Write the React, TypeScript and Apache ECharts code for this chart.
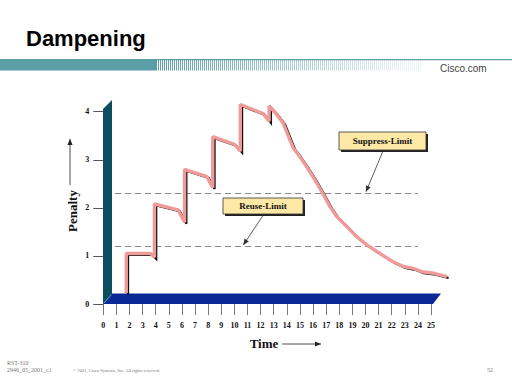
import React, { useEffect, useRef } from "react";
import * as echarts from "echarts";

const timeTicks = Array.from({ length: 26 }, (_, i) => i);
const penaltyTicks = [0, 1, 2, 3, 4];
const penaltyCurve: [number, number][] = [
  [1.75, 0.23], [1.75, 1.05], [3.6, 1.05], [3.9, 0.97],
  [3.9, 2.08], [5.7, 1.96], [6.2, 1.7],
  [6.2, 2.8], [7.9, 2.65], [8.35, 2.42],
  [8.35, 3.48], [10.0, 3.32], [10.45, 3.18],
  [10.45, 4.15], [12.2, 3.96], [12.65, 3.8],
  [12.65, 4.12], [13.2, 3.95], [13.73, 3.76], [14.24, 3.41], [14.5, 3.24],
  [14.9, 3.1], [15.5, 2.86], [16.15, 2.58], [16.66, 2.34], [17.3, 2.02],
  [17.8, 1.82], [18.57, 1.61], [19.33, 1.4], [20.1, 1.23], [21.1, 1.05],
  [22.1, 0.88], [22.9, 0.78], [23.65, 0.74], [24.3, 0.67], [25.2, 0.64], [26.2, 0.57],
];
const suppressLimit = 2.31;
const reuseLimit = 1.21;
const limitStart = 0.9;
const limitEnd = 24;

const X_MIN = 0, X_MAX = 26.5, Y_MIN = 0, Y_MAX = 4.3;
const serif = "Liberation Serif";

function arrowHead(x1: number, y1: number, x2: number, y2: number, len = 6, w = 2.6) {
  const dx = x2 - x1, dy = y2 - y1;
  const l = Math.hypot(dx, dy);
  const ux = dx / l, uy = dy / l;
  const bx = x2 - ux * len, by = y2 - uy * len;
  return [[x2, y2], [bx - uy * w, by + ux * w], [bx + uy * w, by - ux * w]];
}

function arrow(x1: number, y1: number, x2: number, y2: number, color = "#333") {
  return [
    { type: "line", z: 50, shape: { x1, y1, x2, y2 }, style: { stroke: color, lineWidth: 0.8 } },
    { type: "polygon", z: 50, shape: { points: arrowHead(x1, y1, x2, y2) }, style: { fill: color } },
  ];
}

function labelBox(x: number, y: number, w: number, h: number, text: string) {
  return [
    { type: "rect", z: 60, shape: { x: x + 2, y: y + 2, width: w, height: h }, style: { fill: "#222" } },
    { type: "rect", z: 61, shape: { x, y, width: w, height: h }, style: { fill: "#fde8a6", stroke: "#333", lineWidth: 0.8 } },
    {
      type: "text", z: 62, x: x + w / 2, y: y + h / 2,
      style: { text, font: `bold 9px "${serif}"`, fill: "#111", align: "center", verticalAlign: "middle" },
    },
  ];
}

export default function App() {
  const ref = useRef<HTMLDivElement>(null);
  useEffect(() => {
    document.body.style.margin = "0";
    const chart = echarts.init(ref.current!, null, { renderer: "svg" });

    const stripes: any[] = [];
    for (let x = 156; x < 422; x += 2) {
      const f = (x - 156) / (422 - 156);
      stripes.push({
        type: "rect", z: 1, shape: { x, y: 60, width: 1, height: 10.5 },
        style: { fill: "#5a9ea6", opacity: Math.max(0.12, 1 - f * 0.95) },
      });
    }

    const gridBase = { left: 103.3, right: 512 - (103.3 + X_MAX * 13.11), top: 304 - Y_MAX * 48.07, bottom: 80 };

    chart.setOption({
      animation: false,
      grid: [
        { ...gridBase },
        { ...gridBase, left: gridBase.left + 1.8, right: gridBase.right - 1.8, top: gridBase.top + 1.4, bottom: gridBase.bottom - 1.4 },
      ],
      xAxis: [
        {
          type: "value", gridIndex: 0, min: X_MIN, max: X_MAX, interval: 1,
          axisLine: { show: false }, splitLine: { show: false },
          axisTick: { show: true, length: 11, lineStyle: { color: "#777", width: 1 }, customValues: timeTicks },
          axisLabel: {
            customValues: timeTicks, margin: 17,
            formatter: (v: number) => (Number.isInteger(v) && v <= 25 ? String(v) : ""),
            fontFamily: serif, fontWeight: "bold", fontSize: 8, color: "#111",
          },
        },
        { type: "value", gridIndex: 1, min: X_MIN, max: X_MAX, show: false },
      ],
      yAxis: [
        {
          type: "value", gridIndex: 0, min: Y_MIN, max: Y_MAX, interval: 1,
          axisLine: { show: false }, splitLine: { show: false },
          axisTick: { show: true, length: 10, lineStyle: { color: "#555", width: 1 }, customValues: penaltyTicks },
          axisLabel: {
            customValues: penaltyTicks, margin: 14,
            formatter: (v: number) => (Number.isInteger(v) && v <= 4 ? String(v) : ""),
            fontFamily: serif, fontWeight: "bold", fontSize: 8, color: "#111",
          },
        },
        { type: "value", gridIndex: 1, min: Y_MIN, max: Y_MAX, show: false },
      ],
      series: [
        {
          type: "line", xAxisIndex: 1, yAxisIndex: 1, data: penaltyCurve, symbol: "none", z: 5,
          lineStyle: { color: "#111", width: 2.2, join: "miter" }, silent: true,
        },
        {
          type: "line", xAxisIndex: 0, yAxisIndex: 0, data: penaltyCurve, symbol: "none", z: 6,
          lineStyle: { color: "#f19a9a", width: 3.4 }, silent: true,
          markLine: {
            silent: true, symbol: "none", label: { show: false },
            lineStyle: { color: "#888", type: [6, 4], width: 1 },
            data: [
              [{ coord: [limitStart, suppressLimit] }, { coord: [limitEnd, suppressLimit] }],
              [{ coord: [limitStart, reuseLimit] }, { coord: [limitEnd, reuseLimit] }],
            ],
          },
        },
      ],
      graphic: [
        // header
        { type: "rect", z: 1, shape: { x: 0, y: 59, width: 512, height: 1.3 }, style: { fill: "#5a9ea6" } },
        { type: "rect", z: 1, shape: { x: 0, y: 60, width: 156, height: 10.5 }, style: { fill: "#5a9ea6" } },
        ...stripes,
        {
          type: "text", z: 2, x: 26, y: 38,
          style: { text: "Dampening", font: 'bold 22px "Liberation Sans"', fill: "#000", verticalAlign: "middle" },
        },
        {
          type: "text", z: 2, x: 440, y: 68,
          style: { text: "Cisco.com", font: '10px "Liberation Sans"', fill: "#444", verticalAlign: "middle" },
        },
        // walls
        { type: "polygon", z: 0, shape: { points: [[103, 109], [112, 100], [112, 295], [103, 304]] }, style: { fill: "#0b4f5e" } },
        { type: "polygon", z: 0, shape: { points: [[103, 304], [112, 293.5], [441, 293.5], [433, 304]] }, style: { fill: "#0a2896" } },
        { type: "line", z: 0, shape: { x1: 104, y1: 303, x2: 111.5, y2: 294.5 }, style: { stroke: "#7a9ab8", lineWidth: 1 } },
        // axis titles
        {
          type: "text", z: 2, x: 72, y: 211, rotation: Math.PI / 2,
          style: { text: "Penalty", font: `bold 13px "${serif}"`, fill: "#111", align: "center", verticalAlign: "middle" },
        },
        ...arrow(70, 185, 70, 139, "#222"),
        {
          type: "text", z: 2, x: 264, y: 343,
          style: { text: "Time", font: `bold 13px "${serif}"`, fill: "#111", align: "center", verticalAlign: "middle" },
        },
        ...arrow(282, 344, 321, 344, "#222"),
        // annotations
        ...labelBox(339, 132, 87, 18, "Suppress-Limit"),
        ...arrow(382.7, 151.7, 366, 191.7),
        ...labelBox(223, 198, 80, 16, "Reuse-Limit"),
        ...arrow(262.7, 216, 243.3, 245),
        // footer
        { type: "text", z: 2, x: 7, y: 363, style: { text: "RST-310", font: `6px "${serif}"`, fill: "#777", verticalAlign: "middle" } },
        { type: "text", z: 2, x: 7, y: 370, style: { text: "2946_05_2001_c1", font: `6px "${serif}"`, fill: "#777", verticalAlign: "middle" } },
        { type: "text", z: 2, x: 73, y: 370, style: { text: "© 2001, Cisco Systems, Inc. All rights reserved.", font: `4.5px "${serif}"`, fill: "#777", verticalAlign: "middle" } },
        { type: "text", z: 2, x: 487, y: 370, style: { text: "52", font: `6px "${serif}"`, fill: "#777", verticalAlign: "middle" } },
      ],
    });
    return () => chart.dispose();
  }, []);
  return <div ref={ref} style={{ position: "absolute", left: 0, top: 0, width: 512, height: 384 }} />;
}
